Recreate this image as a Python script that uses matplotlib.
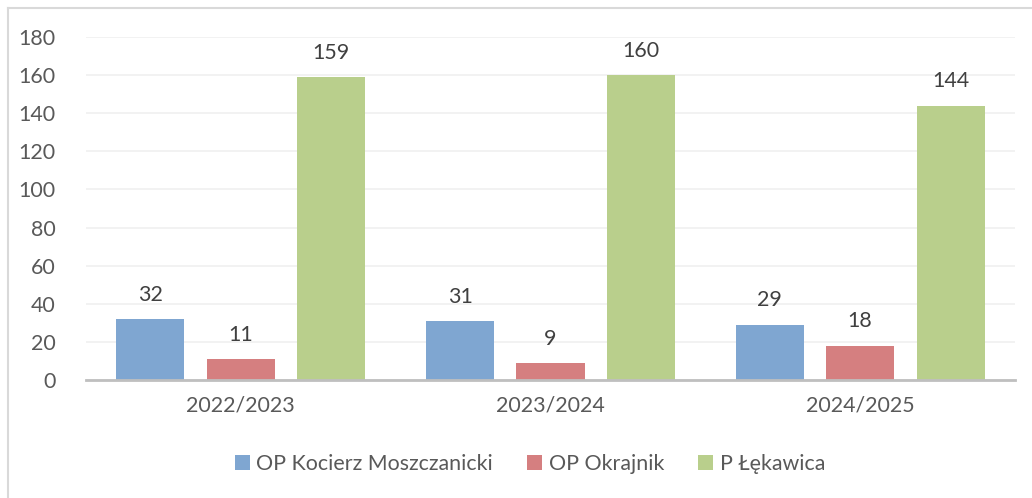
import matplotlib
matplotlib.use('Agg')
import matplotlib.pyplot as plt
import numpy as np
from matplotlib.lines import Line2D

years = ['2022/2023', '2023/2024', '2024/2025']
series = ['OP Kocierz Moszczanicki', 'OP Okrajnik', 'P Łękawica']
values = [
    [32, 31, 29],
    [11, 9, 18],
    [159, 160, 144],
]
colors = ['#7fa6d1', '#d57f80', '#b9cf8c']

plt.rcParams['font.family'] = ['Lato', 'DejaVu Sans']
fs = 15.4

W, H = 1032, 498
fig = plt.figure(figsize=(W / 100, H / 100), dpi=100)
ax = fig.add_axes([86 / W, 1 - 380 / H, (1015 - 86) / W, (380 - 37) / H])

x = np.arange(len(years))
bw = 0.22
step = 0.292
for i, (name, vals) in enumerate(zip(series, values)):
    pos = x + (i - 1) * step
    ax.bar(pos, vals, width=bw, color=colors[i], label=name, zorder=3)
    for p, v in zip(pos, vals):
        ax.text(p, v + 7.5, str(v), ha='center', va='bottom', fontsize=fs, color='#404040')

ax.set_xlim(-0.5, 2.5)
ax.set_ylim(0, 180)
ax.set_yticks(range(0, 181, 20))
ax.set_xticks(x)
ax.set_xticklabels(years)
ax.tick_params(axis='both', length=0, labelsize=fs, labelcolor='#595959')
ax.tick_params(axis='y', pad=22)
ax.tick_params(axis='x', pad=11)
ax.grid(axis='y', color='#f0f0f0', linewidth=1.2, zorder=0)
for s in ['top', 'right', 'left']:
    ax.spines[s].set_visible(False)
ax.spines['bottom'].set_color('#bfbfbf')
ax.spines['bottom'].set_linewidth(2)
ax.spines['bottom'].set_zorder(4)

leg = fig.legend(loc='center', bbox_to_anchor=(530 / W, 1 - 464 / H), ncol=3, frameon=False,
                 fontsize=fs, handlelength=0.7, handleheight=0.7, handletextpad=0.3,
                 columnspacing=1.6)
for t in leg.get_texts():
    t.set_color('#595959')

fig.add_artist(Line2D([8 / W, 8 / W], [0, 1 - 8 / H], color='#d9d9d9', linewidth=1.5))
fig.add_artist(Line2D([8 / W, 1], [1 - 8 / H, 1 - 8 / H], color='#d9d9d9', linewidth=1.5))

fig.savefig('out.png', dpi=100)
